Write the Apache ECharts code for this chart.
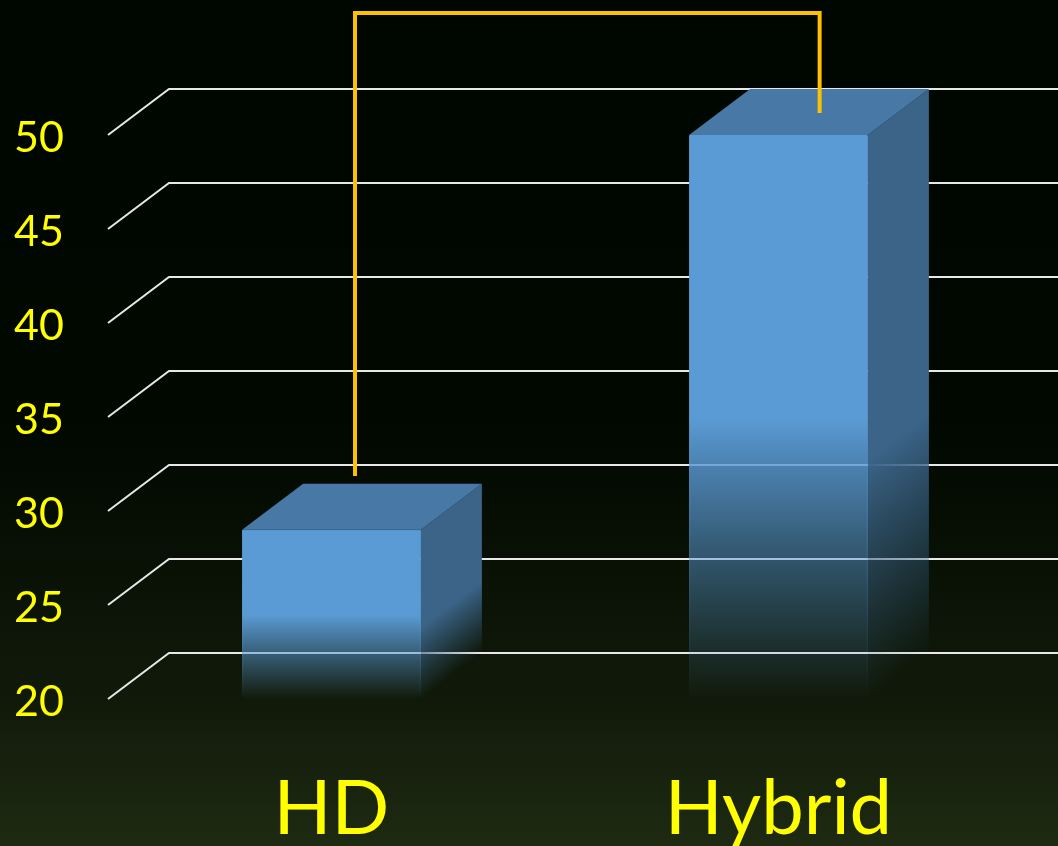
<!DOCTYPE html>
<html>
<head>
<meta charset="utf-8">
<style>html,body{margin:0;padding:0;background:#000800}#c{width:1058px;height:846px}</style>
<script src="https://cdn.jsdelivr.net/npm/echarts@6/dist/echarts.min.js"></script>
</head>
<body>
<div id="c"></div>
<script>
// Chart data
const categories = ['HD', 'Hybrid'];
const barValues = [29, 50];
const yTicks = [20, 25, 30, 35, 40, 45, 50];
// Bracket joining the two bars: x in category units, y in axis units
const bracketX = [0.5526, 0.5526, 1.592, 1.592];
const bracketY = [31.86, 56.49, 56.49, 51.17];

// Oblique projection of the floor and bars
const DEPTH_X = 61;
const DEPTH_Y = 46;
const BAR_FRACTION = 0.4;
const FRONT = '#5b9bd5', TOP = '#4878a5', SIDE = '#3b6488';

const LG = echarts.graphic.LinearGradient;

function fade(color, x0, y0, x1, y1) {
  // solid down to the gradient start, then dissolving into the background
  return new LG(x0, y0, x1, y1, [
    { offset: 0, color: color },
    { offset: 1, color: echarts.color.modifyAlpha(color, 0) }
  ], true);
}

function renderGridLine(params, api) {
  const p = api.coord([0, api.value(1)]);
  const r = params.coordSys;
  return {
    type: 'polyline',
    shape: { points: [[r.x, p[1]], [r.x + DEPTH_X, p[1] - DEPTH_Y], [r.x + r.width + DEPTH_X, p[1] - DEPTH_Y]] },
    style: { stroke: '#e8e8e8', lineWidth: 2, fill: null }
  };
}

function renderBar(params, api) {
  const c = api.coord([api.value(0), api.value(1)]);
  const base = api.coord([api.value(0), yTicks[0]])[1];
  const w = api.size([1, 0])[0] * BAR_FRACTION;
  const l = c[0] - w / 2, r = c[0] + w / 2, t = c[1];
  const mid = (t + base) / 2;

  const frontFill = fade(FRONT, l, mid, l, base);
  // side fades along the receding floor edge, starting a little lower than the front
  const len = Math.hypot(DEPTH_X, DEPTH_Y);
  const nx = DEPTH_Y / len, ny = DEPTH_X / len;
  const sideStart = mid + (base - mid) * 0.15;
  const d = (base - sideStart) * ny;
  const sideFill = fade(SIDE, r, sideStart, r + nx * d, sideStart + ny * d);

  return {
    type: 'group',
    children: [
      {
        type: 'polygon',
        shape: { points: [[r, t], [r + DEPTH_X, t - DEPTH_Y], [r + DEPTH_X, base - DEPTH_Y], [r, base]] },
        style: { fill: sideFill }
      },
      {
        type: 'polygon',
        shape: { points: [[l, t], [l + DEPTH_X, t - DEPTH_Y], [r + DEPTH_X, t - DEPTH_Y], [r, t]] },
        style: { fill: TOP }
      },
      {
        type: 'rect',
        shape: { x: l + 0.5, y: t + 0.5, width: r - l - 1, height: base - t - 1 },
        style: { fill: frontFill, stroke: fade(FRONT, l, mid, l, base), lineWidth: 1 }
      }
    ]
  };
}

const chart = echarts.init(document.getElementById('c'), null, { renderer: 'canvas', width: 1058, height: 846 });
chart.setOption({
  animation: false,
  backgroundColor: new LG(0, 0, 0, 1, [
    { offset: 0, color: '#000600' },
    { offset: 0.5, color: '#000800' },
    { offset: 0.83, color: '#111a0a' },
    { offset: 1, color: '#1e2a12' }
  ]),
  grid: { left: 108, top: 135, width: 894, height: 564, outerBoundsMode: 'none' },
  xAxis: [
    {
      type: 'category',
      data: categories,
      axisLine: { show: false },
      axisTick: { show: false },
      axisLabel: { color: '#ffff00', fontFamily: 'Lato', fontSize: 76, margin: 72, lineHeight: 76 }
    },
    { type: 'value', min: 0, max: 2, show: false }
  ],
  yAxis: {
    type: 'value',
    min: 20,
    max: 50,
    interval: 5,
    axisLine: { show: false },
    axisTick: { show: false },
    splitLine: { show: false },
    axisLabel: { color: '#ffff00', fontFamily: 'Lato', fontSize: 43, margin: 44, verticalAlign: 'top', lineHeight: 6 }
  },
  series: [
    {
      type: 'custom',
      name: 'Grid',
      clip: false,
      silent: true,
      z: 1,
      data: yTicks.map(v => [0, v]),
      encode: { x: 0, y: 1 },
      renderItem: renderGridLine
    },
    {
      type: 'custom',
      name: 'Bars',
      clip: false,
      z: 2,
      data: barValues.map((v, i) => [i, v]),
      encode: { x: 0, y: 1 },
      renderItem: renderBar
    },
    {
      type: 'line',
      name: 'Bracket',
      xAxisIndex: 1,
      clip: false,
      z: 3,
      symbol: 'none',
      lineStyle: { color: '#ffc000', width: 4, join: 'miter', cap: 'butt' },
      data: bracketX.map((x, i) => [x, bracketY[i]])
    }
  ]
});
</script>
</body>
</html>
